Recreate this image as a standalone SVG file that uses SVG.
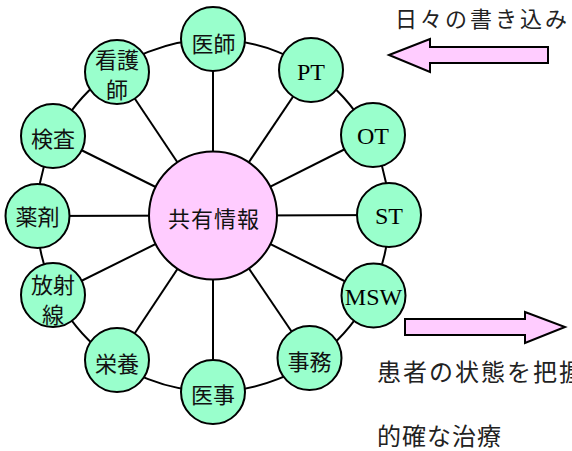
<svg xmlns="http://www.w3.org/2000/svg" width="572" height="451" viewBox="0 0 572 451">
<style>
.node{fill:#99ffcc;stroke:#000;stroke-width:2}
.hub{fill:#ffccff;stroke:#000;stroke-width:2}
.conn line,.conn circle{stroke:#000;stroke-width:2;fill:none}
.arrow{fill:#ffccff;stroke:#000;stroke-width:2;stroke-linejoin:miter}
.jp{font-family:"Noto Sans CJK JP","Noto Sans",sans-serif;font-size:22px;fill:#111;text-anchor:middle;dominant-baseline:central}
.en{font-family:"Liberation Serif","Times New Roman",serif;font-size:24px;fill:#000;text-anchor:middle}
.lbl{font-family:"Noto Sans CJK JP","Noto Sans",sans-serif;fill:#222;dominant-baseline:central}
</style>
<rect width="572" height="451" fill="#fff"/>
<g id="connectors" class="conn">
<circle cx="213" cy="215.5" r="176"/>
<line x1="213" y1="215.5" x2="213" y2="39"/>
<line x1="213" y1="215.5" x2="311" y2="70"/>
<line x1="213" y1="215.5" x2="373" y2="135"/>
<line x1="213" y1="215.5" x2="389" y2="215"/>
<line x1="213" y1="215.5" x2="373.5" y2="295.5"/>
<line x1="213" y1="215.5" x2="309.5" y2="358"/>
<line x1="213" y1="215.5" x2="213" y2="392"/>
<line x1="213" y1="215.5" x2="117" y2="360"/>
<line x1="213" y1="215.5" x2="53" y2="295"/>
<line x1="213" y1="215.5" x2="37.5" y2="216"/>
<line x1="213" y1="215.5" x2="53" y2="136"/>
<line x1="213" y1="215.5" x2="117" y2="72"/>
</g>
<g id="hub">
<circle class="hub" cx="213" cy="215.5" r="64"/>
<text class="jp" x="214" y="217" style="letter-spacing:1px">共有情報</text>
</g>
<g id="n-ishi"><circle class="node" cx="213" cy="39" r="32"/><text class="jp" x="213.5" y="42">医師</text></g>
<g id="n-pt"><circle class="node" cx="311" cy="70" r="32"/><text class="en" x="311" y="80">PT</text></g>
<g id="n-ot"><circle class="node" cx="373" cy="135" r="32"/><text class="en" x="373" y="144">OT</text></g>
<g id="n-st"><circle class="node" cx="389" cy="215" r="32"/><text class="en" x="389" y="224">ST</text></g>
<g id="n-msw"><circle class="node" cx="373.5" cy="295.5" r="32"/><text class="en" x="373.5" y="305">MSW</text></g>
<g id="n-jimu"><circle class="node" cx="309.5" cy="358" r="32"/><text class="jp" x="309.5" y="360">事務</text></g>
<g id="n-iji"><circle class="node" cx="213" cy="392" r="32"/><text class="jp" x="213" y="393">医事</text></g>
<g id="n-eiyo"><circle class="node" cx="117" cy="360" r="32"/><text class="jp" x="117" y="362">栄養</text></g>
<g id="n-hoshasen"><circle class="node" cx="53" cy="295" r="32"/><text class="jp"><tspan x="53" y="282.5">放射</tspan><tspan x="53" y="312.5">線</tspan></text></g>
<g id="n-yakuzai"><circle class="node" cx="37.5" cy="216" r="32"/><text class="jp" x="37.5" y="215">薬剤</text></g>
<g id="n-kensa"><circle class="node" cx="53" cy="136" r="32"/><text class="jp" x="53" y="137">検査</text></g>
<g id="n-kangoshi"><circle class="node" cx="117" cy="72" r="32"/><text class="jp"><tspan x="117" y="58">看護</tspan><tspan x="117" y="88">師</tspan></text></g>
<g id="arrow-in">
<polygon class="arrow" points="389,55 430,39 430,47 548,47 548,63 430,63 430,72"/>
<text class="lbl" x="395" y="17" style="font-size:22px;letter-spacing:3px">日々の書き込み</text>
</g>
<g id="arrow-out">
<polygon class="arrow" points="405,319 525,319 525,312 565,327 525,343 525,335 405,335"/>
<text class="lbl" x="377" y="370" style="font-size:24px;letter-spacing:2px">患者の状態を把握</text>
<text class="lbl" x="377" y="434" style="font-size:24px;letter-spacing:1px">的確な治療</text>
</g>
</svg>
